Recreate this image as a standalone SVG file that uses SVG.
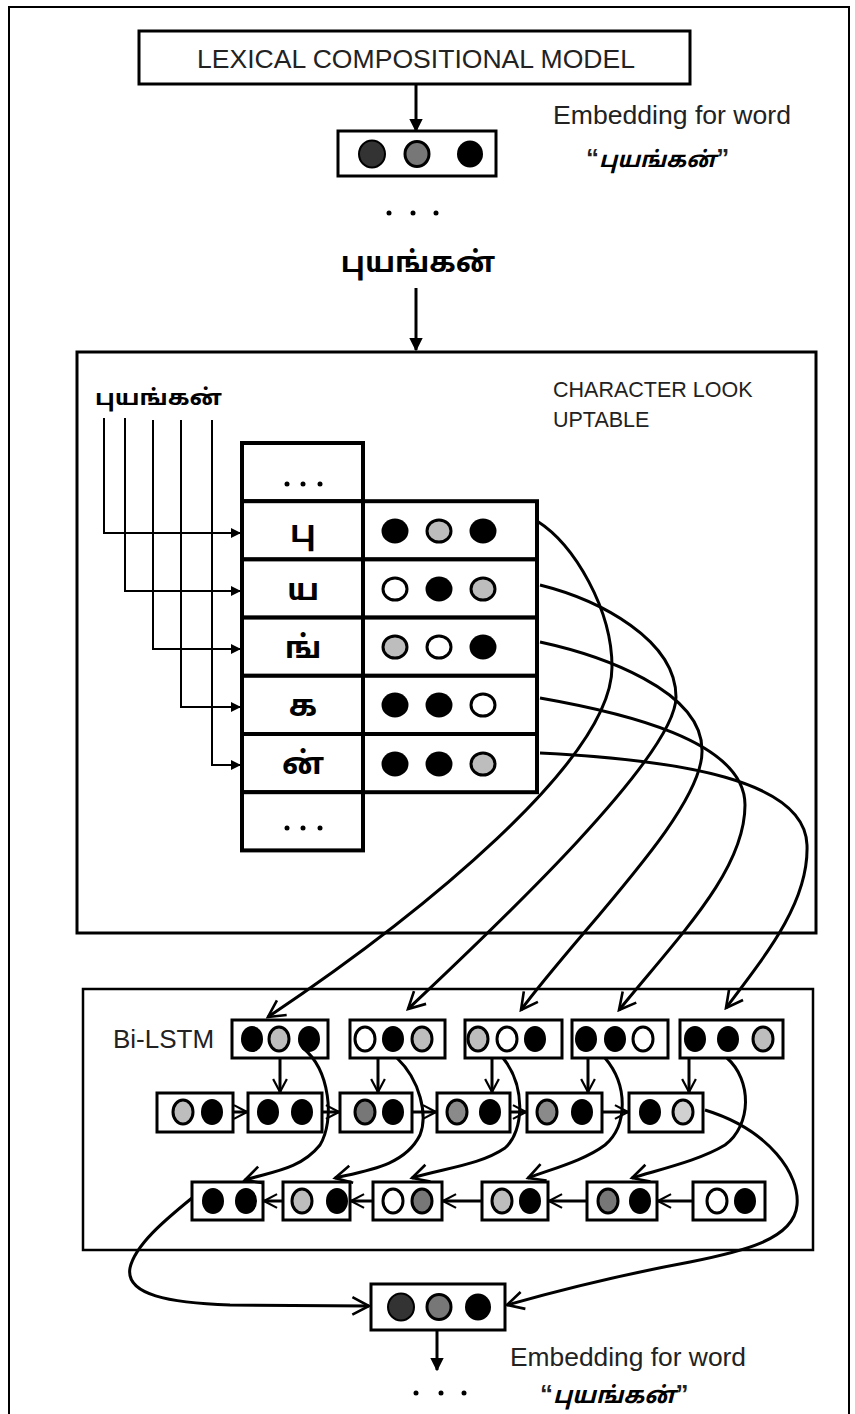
<svg xmlns="http://www.w3.org/2000/svg" width="855" height="1414" viewBox="0 0 855 1414">
<defs>
<style>
.frame{fill:none;stroke:#000;stroke-width:2}
.box{fill:#fff;stroke:#000;stroke-width:3}
.cell{fill:#fff;stroke:#000;stroke-width:4}
.lbl{font-family:'Liberation Sans',Arial,sans-serif;font-size:26px;fill:#222}
.ta{font-family:'Noto Sans Tamil','Noto Serif Tamil','Lohit Tamil',FreeSans,sans-serif;font-weight:bold;fill:#000}
.k{fill:#000}
.d{fill:#333;stroke:#000;stroke-width:2}
.m{fill:#777;stroke:#000;stroke-width:3}
.g{fill:#bdbdbd;stroke:#000;stroke-width:3}
.w{fill:#fff;stroke:#000;stroke-width:3}
.conn{fill:none;stroke:#000;stroke-width:3}
.thin{fill:none;stroke:#000;stroke-width:2}
.dot{fill:#000}
</style>
<marker id="af" viewBox="0 0 10 10" refX="9" refY="5" markerWidth="4.5" markerHeight="4.5" orient="auto"><path d="M0,0 L10,5 L0,10 z"/></marker>
<marker id="as" viewBox="0 0 10 10" refX="9" refY="5" markerWidth="5" markerHeight="5" orient="auto"><path d="M0,0 L10,5 L0,10 z"/></marker>
<marker id="ao" viewBox="0 0 12 12" refX="10.5" refY="6" markerWidth="7" markerHeight="7" orient="auto"><path d="M1,1 L10.5,6 L1,11" fill="none" stroke="#000" stroke-width="1.5"/></marker>
<marker id="aos" viewBox="0 0 12 12" refX="10.5" refY="6" markerWidth="5.5" markerHeight="5.5" orient="auto"><path d="M1,1 L10.5,6 L1,11" fill="none" stroke="#000" stroke-width="1.6"/></marker>
</defs>
<rect width="855" height="1414" fill="#fff"/>
<path class="frame" d="M9,1414 V7 H849 V1414"/>

<g id="lexical-model">
<rect class="box" x="139" y="31" width="551" height="53"/>
<text class="lbl" x="197" y="68" textLength="438" lengthAdjust="spacingAndGlyphs">LEXICAL COMPOSITIONAL MODEL</text>
</g>

<g id="embedding-top">
<rect class="box" x="338" y="131" width="158" height="45"/>
<ellipse class="d" cx="372" cy="154" rx="13" ry="13.5"/>
<ellipse class="m" cx="417" cy="154" rx="12" ry="12.5"/>
<ellipse class="k" cx="470" cy="154" rx="13" ry="13.5"/>
<text class="lbl" x="553" y="124" textLength="238" lengthAdjust="spacingAndGlyphs">Embedding for word</text>
<text x="586" y="167"><tspan class="lbl" font-size="24" font-weight="bold">“</tspan><tspan class="ta" font-style="italic" font-size="22">புயங்கன்</tspan><tspan class="lbl" font-size="24" font-weight="bold">”</tspan></text>
</g>

<g id="dots-top">
<circle class="dot" cx="389" cy="213" r="2.5"/>
<circle class="dot" cx="413" cy="213" r="2.5"/>
<circle class="dot" cx="436" cy="213" r="2.5"/>
</g>

<g id="word-top">
<text class="ta" x="418" y="272" font-size="29" text-anchor="middle">புயங்கன்</text>
</g>

<g id="lookup">
<rect class="box" x="77" y="352" width="739" height="581"/>
<text class="lbl" x="553" y="397" style="font-size:21.5px">CHARACTER LOOK</text>
<text class="lbl" x="553" y="427" style="font-size:21.5px">UPTABLE</text>
<text class="ta" x="95" y="405" font-size="22" textLength="127" lengthAdjust="spacingAndGlyphs">புயங்கன்</text>
<g id="table">
<rect class="cell" x="242" y="443" width="121" height="58.2"/>
<rect class="cell" x="242" y="501.2" width="121" height="58.2"/>
<rect class="cell" x="242" y="559.4" width="121" height="58.2"/>
<rect class="cell" x="242" y="617.6" width="121" height="58.2"/>
<rect class="cell" x="242" y="675.8" width="121" height="58.2"/>
<rect class="cell" x="242" y="734" width="121" height="58.2"/>
<rect class="cell" x="242" y="792.2" width="121" height="58.2"/>
<rect class="cell" x="363" y="501.2" width="174" height="58.2"/>
<rect class="cell" x="363" y="559.4" width="174" height="58.2"/>
<rect class="cell" x="363" y="617.6" width="174" height="58.2"/>
<rect class="cell" x="363" y="675.8" width="174" height="58.2"/>
<rect class="cell" x="363" y="734" width="174" height="58.2"/>
<circle class="dot" cx="287" cy="484" r="2.5"/><circle class="dot" cx="303" cy="484" r="2.5"/><circle class="dot" cx="320" cy="484" r="2.5"/>
<circle class="dot" cx="287" cy="828" r="2.5"/><circle class="dot" cx="303" cy="828" r="2.5"/><circle class="dot" cx="320" cy="828" r="2.5"/>
<text class="ta" x="303" y="542" font-size="31" text-anchor="middle">பு</text>
<text class="ta" x="303" y="600" font-size="31" text-anchor="middle">ய</text>
<text class="ta" x="303" y="658" font-size="31" text-anchor="middle">ங்</text>
<text class="ta" x="303" y="716" font-size="31" text-anchor="middle">க</text>
<text class="ta" x="303" y="774" font-size="31" text-anchor="middle">ன்</text>
<ellipse class="k" cx="395" cy="531" rx="13.5" ry="12.5"/><ellipse class="g" cx="439" cy="531" rx="12" ry="11"/><ellipse class="k" cx="483" cy="531" rx="13.5" ry="12.5"/>
<ellipse class="w" cx="395" cy="589" rx="12" ry="11"/><ellipse class="k" cx="439" cy="589" rx="13.5" ry="12.5"/><ellipse class="g" cx="483" cy="589" rx="12" ry="11"/>
<ellipse class="g" cx="395" cy="647" rx="12" ry="11"/><ellipse class="w" cx="439" cy="647" rx="12" ry="11"/><ellipse class="k" cx="483" cy="647" rx="13.5" ry="12.5"/>
<ellipse class="k" cx="395" cy="705" rx="13.5" ry="12.5"/><ellipse class="k" cx="439" cy="705" rx="13.5" ry="12.5"/><ellipse class="w" cx="483" cy="705" rx="12" ry="11"/>
<ellipse class="k" cx="395" cy="764" rx="13.5" ry="12.5"/><ellipse class="k" cx="439" cy="764" rx="13.5" ry="12.5"/><ellipse class="g" cx="483" cy="764" rx="12" ry="11"/>
</g>
</g>

<g id="bilstm">
<rect class="box" x="83" y="989" width="730" height="261" style="stroke-width:2.5"/>
<text class="lbl" x="113" y="1048">Bi-LSTM</text>
<g id="top-row">
<rect class="box" x="232" y="1020" width="96" height="38"/>
<ellipse class="k" cx="252" cy="1039" rx="11" ry="13"/><ellipse class="g" cx="279" cy="1039" rx="10" ry="12"/><ellipse class="k" cx="309" cy="1039" rx="11" ry="13"/>
<rect class="box" x="350" y="1020" width="95" height="38"/>
<ellipse class="w" cx="365" cy="1039" rx="10" ry="12"/><ellipse class="k" cx="393" cy="1039" rx="11" ry="13"/><ellipse class="g" cx="422" cy="1039" rx="10" ry="12"/>
<rect class="box" x="465" y="1020" width="97" height="38"/>
<ellipse class="g" cx="478" cy="1039" rx="10" ry="12"/><ellipse class="w" cx="507" cy="1039" rx="10" ry="12"/><ellipse class="k" cx="535" cy="1039" rx="11" ry="13"/>
<rect class="box" x="572" y="1020" width="96" height="38"/>
<ellipse class="k" cx="586" cy="1039" rx="11" ry="13"/><ellipse class="k" cx="615" cy="1039" rx="11" ry="13"/><ellipse class="w" cx="643" cy="1039" rx="10" ry="12"/>
<rect class="box" x="680" y="1020" width="103" height="38"/>
<ellipse class="k" cx="695" cy="1039" rx="11" ry="13"/><ellipse class="k" cx="728" cy="1039" rx="11" ry="13"/><ellipse class="g" cx="763" cy="1039" rx="10" ry="12"/>
</g>
<g id="forward-row">
<rect class="box" x="157" y="1093" width="76" height="39"/>
<ellipse class="g" cx="183" cy="1112" rx="10" ry="12"/><ellipse class="k" cx="212" cy="1112" rx="11" ry="13"/>
<rect class="box" x="248" y="1093" width="74" height="39"/>
<ellipse class="k" cx="268" cy="1112" rx="11" ry="13"/><ellipse class="k" cx="302" cy="1112" rx="11" ry="13"/>
<rect class="box" x="340" y="1093" width="72" height="39"/>
<ellipse class="m" cx="365" cy="1112" rx="10" ry="12"/><ellipse class="k" cx="393" cy="1112" rx="11" ry="13"/>
<rect class="box" x="437" y="1093" width="73" height="39"/>
<ellipse class="m" cx="457" cy="1112" rx="10" ry="12" style="fill:#8a8a8a"/><ellipse class="k" cx="490" cy="1112" rx="11" ry="13"/>
<rect class="box" x="527" y="1093" width="75" height="39"/>
<ellipse class="m" cx="547" cy="1112" rx="10" ry="12" style="fill:#8a8a8a"/><ellipse class="k" cx="582" cy="1112" rx="11" ry="13"/>
<rect class="box" x="629" y="1093" width="74" height="39"/>
<ellipse class="k" cx="650" cy="1112" rx="11" ry="13"/><ellipse class="g" cx="683" cy="1112" rx="10" ry="12" style="fill:#d0d0d0"/>
</g>
<g id="backward-row">
<rect class="box" x="192" y="1182" width="71" height="38"/>
<ellipse class="k" cx="213" cy="1201" rx="11" ry="13"/><ellipse class="k" cx="246" cy="1201" rx="11" ry="13"/>
<rect class="box" x="283" y="1182" width="67" height="38"/>
<ellipse class="g" cx="302" cy="1201" rx="10" ry="12"/><ellipse class="k" cx="337" cy="1201" rx="11" ry="13"/>
<rect class="box" x="373" y="1182" width="69" height="38"/>
<ellipse class="w" cx="393" cy="1201" rx="10" ry="12"/><ellipse class="m" cx="422" cy="1201" rx="10" ry="12"/>
<rect class="box" x="482" y="1182" width="66" height="38"/>
<ellipse class="g" cx="502" cy="1201" rx="10" ry="12"/><ellipse class="k" cx="530" cy="1201" rx="11" ry="13"/>
<rect class="box" x="587" y="1182" width="70" height="38"/>
<ellipse class="m" cx="608" cy="1201" rx="10" ry="12"/><ellipse class="k" cx="640" cy="1201" rx="11" ry="13"/>
<rect class="box" x="693" y="1182" width="72" height="38"/>
<ellipse class="w" cx="717" cy="1201" rx="10" ry="12"/><ellipse class="k" cx="745" cy="1201" rx="11" ry="13"/>
</g>
</g>

<g id="embedding-final">
<rect class="box" x="371" y="1284" width="134" height="46"/>
<ellipse class="d" cx="401" cy="1307" rx="13" ry="13.5"/>
<ellipse class="m" cx="439" cy="1307" rx="12" ry="12.5"/>
<ellipse class="k" cx="478" cy="1307" rx="13" ry="13.5"/>
<text class="lbl" x="510" y="1366" textLength="236" lengthAdjust="spacingAndGlyphs">Embedding for word</text>
<text x="540" y="1403"><tspan class="lbl" font-size="24" font-weight="bold">“</tspan><tspan class="ta" font-style="italic" font-size="23">புயங்கன்</tspan><tspan class="lbl" font-size="24" font-weight="bold">”</tspan></text>
<circle class="dot" cx="416" cy="1393" r="2.5"/>
<circle class="dot" cx="441" cy="1393" r="2.5"/>
<circle class="dot" cx="464" cy="1393" r="2.5"/>
</g>

<g id="connectors">
<path class="conn" d="M416,84 V131" marker-end="url(#af)"/>
<path class="conn" d="M416,288 V350" marker-end="url(#af)"/>
<path class="conn" d="M437,1330 V1370" marker-end="url(#af)"/>
<path class="thin" d="M104,418 V533 H240" marker-end="url(#as)"/>
<path class="thin" d="M125,418 V591 H240" marker-end="url(#as)"/>
<path class="thin" d="M153,420 V649 H240" marker-end="url(#as)"/>
<path class="thin" d="M181,420 V707 H240" marker-end="url(#as)"/>
<path class="thin" d="M212,420 V765 H240" marker-end="url(#as)"/>
<path class="conn" d="M537,521 C575,545 612,610 612,667 C612,760 420,915 268,1017" marker-end="url(#ao)"/>
<path class="conn" d="M540,585 C600,600 676,640 676,697 C676,760 470,950 408,1009" marker-end="url(#ao)"/>
<path class="conn" d="M540,642 C600,655 702,690 702,750 C704,810 580,930 521,1010" marker-end="url(#ao)"/>
<path class="conn" d="M540,698 C620,712 745,740 745,805 C745,870 680,935 619,1010" marker-end="url(#ao)"/>
<path class="conn" d="M540,753 C680,760 805,780 807,845 C809,900 770,950 726,1008" marker-end="url(#ao)"/>
<path class="conn" d="M280,1058 V1092" marker-end="url(#aos)"/>
<path class="conn" d="M378,1058 V1092" marker-end="url(#aos)"/>
<path class="conn" d="M492,1058 V1092" marker-end="url(#aos)"/>
<path class="conn" d="M588,1058 V1092" marker-end="url(#aos)"/>
<path class="conn" d="M689,1058 V1092" marker-end="url(#aos)"/>
<path class="conn" d="M233,1112 H247" marker-end="url(#aos)"/>
<path class="conn" d="M322,1112 H339" marker-end="url(#aos)"/>
<path class="conn" d="M412,1112 H436" marker-end="url(#aos)"/>
<path class="conn" d="M510,1112 H526" marker-end="url(#aos)"/>
<path class="conn" d="M602,1112 H628" marker-end="url(#aos)"/>
<path class="conn" d="M693,1201 H658" marker-end="url(#aos)"/>
<path class="conn" d="M587,1201 H549" marker-end="url(#aos)"/>
<path class="conn" d="M482,1201 H443" marker-end="url(#aos)"/>
<path class="conn" d="M373,1201 H351" marker-end="url(#aos)"/>
<path class="conn" d="M283,1201 H264" marker-end="url(#aos)"/>
<path class="conn" d="M303,1048 C330,1070 335,1120 320,1145 C300,1170 270,1172 245,1180" marker-end="url(#ao)"/>
<path class="conn" d="M397,1058 C420,1080 428,1115 420,1135 C405,1165 370,1170 335,1178" marker-end="url(#ao)"/>
<path class="conn" d="M503,1058 C525,1085 525,1130 505,1148 C480,1165 445,1168 412,1178" marker-end="url(#ao)"/>
<path class="conn" d="M605,1058 C628,1085 628,1125 605,1145 C585,1160 555,1168 528,1178" marker-end="url(#ao)"/>
<path class="conn" d="M727,1058 C752,1080 752,1125 725,1145 C700,1160 665,1168 632,1178" marker-end="url(#ao)"/>
<path class="conn" d="M705,1110 C770,1130 800,1175 797,1205 C794,1240 740,1252 690,1262 C620,1275 560,1290 507,1305" marker-end="url(#ao)"/>
<path class="conn" d="M192,1198 C165,1220 135,1245 130,1268 C125,1295 170,1303 230,1305 L369,1306" marker-end="url(#ao)"/>
</g>
</svg>
